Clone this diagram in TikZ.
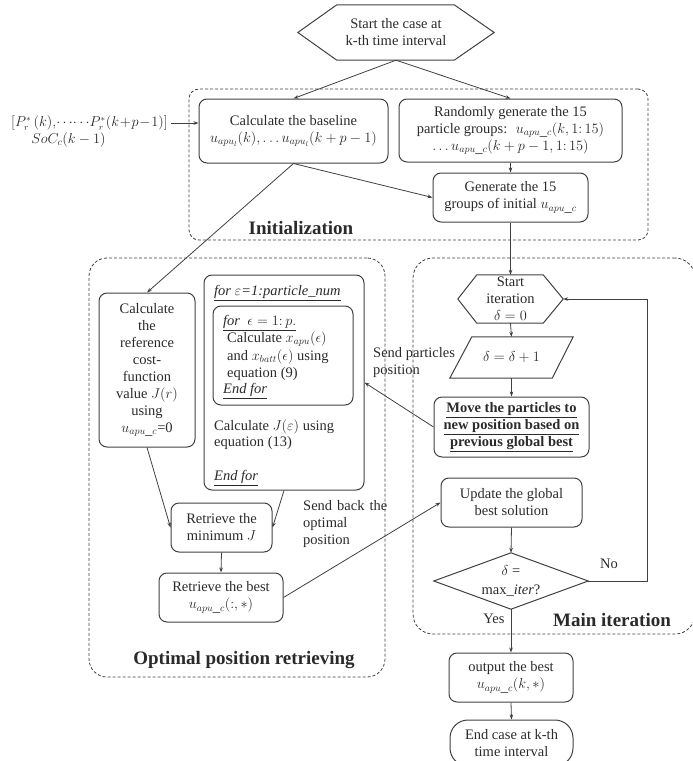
\documentclass[tikz,border=0pt]{standalone}
\usepackage{fontspec}
\setmainfont{Liberation Serif}
\usetikzlibrary{calc,arrows.meta}
\definecolor{ink}{HTML}{2A2A2A}
\definecolor{edge}{HTML}{404040}
\begin{document}
\begin{tikzpicture}[x=1bp,y=-1bp,
  font=\fontsize{14.5bp}{17bp}\selectfont,
  box/.style={draw=edge, line width=1bp, rounded corners=8bp, align=center, inner sep=1bp, text=ink},
  shapeline/.style={draw=edge, line width=1bp},
  txt/.style={align=center, inner sep=0pt, text=ink},
  ltxt/.style={anchor=base west, inner sep=0pt, text=ink},
  arr/.style={draw=edge, line width=0.8bp, -{Stealth[length=5bp,width=3.6bp]}},
  grp/.style={draw=edge, line width=0.8bp, dash pattern=on 3bp off 2bp},
  lab/.style={font=\fontsize{19bp}{23bp}\selectfont\bfseries, inner sep=0pt, anchor=base, text=ink}]
\useasboundingbox (0,0) rectangle (693,761);

% group frames
\node[grp, rounded corners=10bp, minimum width=459bp, minimum height=151bp] (initgrp) at (418.5,164.5) {};
\node[grp, rounded corners=18bp, minimum width=296bp, minimum height=419bp] (optgrp) at (237,467.5) {};
\node[grp, rounded corners=20bp, minimum width=282bp, minimum height=376bp] (maingrp) at (554,446) {};
\node[lab] (initlab) at (301,234) {Initialization};
\node[lab] (optlab) at (244,664) {Optimal position retrieving};
\node[lab] (mainlab) at (612,626) {Main iteration};

% start hexagon
\node[txt, minimum width=196bp, minimum height=55bp] (start) at (396,32.5) {Start the case at\\k-th time interval};
\draw[shapeline] (start.west) -- ($(start.north west)+(39,0)$) -- ($(start.north east)+(-40,0)$) -- (start.east)
  -- ($(start.south east)+(-40,0)$) -- ($(start.south west)+(39,0)$) -- cycle;

% inputs
\node[txt, inner sep=3bp, anchor=east, font=\fontsize{13.5bp}{16bp}\selectfont] (inp1) at (171,123) {$[P_r^{*}\,(k),\!\cdots\!\cdots\! P_r^{*}(k\!+\!p\!-\!1)]$};
\node[txt] (inp2) at (68.5,140) {$SoC_c(k-1)$};

% initialization boxes
\node[box, minimum width=189bp, minimum height=64bp] (baseline) at (293.5,131) {Calculate the baseline\\$u_{apu_l}(k),\ldots u_{apu_l}(k+p-1)$};
\node[box, minimum width=223bp, minimum height=63bp] (random) at (510.5,130.5) {Randomly generate the 15\\particle groups:~ $u_{apu\_c}(k,1{:}\,15)$\\$\ldots u_{apu\_c}(k+p-1,1{:}\,15)$};
\node[box, minimum width=155bp, minimum height=49bp] (generate) at (510.5,197.5) {Generate the 15\\groups of initial $u_{apu\_c}$};

% optimal position retrieving
\node[box, minimum width=96bp, minimum height=154bp] (reference) at (147,370) {Calculate\\the\\reference\\cost-\\function\\value $J(r)$\\using\\$u_{apu\_c}$=0};
\node[box, minimum width=160bp, minimum height=215bp] (forbox) at (284,382.5) {};
\node[box, minimum width=140bp, minimum height=99bp] (inner) at (283,355.5) {};
\node[ltxt] (fl1) at (214,295.5) {\underline{\textit{for $\varepsilon$=1:particle\_num}}};
\node[ltxt] (fl2) at (223,325.5) {\underline{\textit{for}\ \ $\epsilon = 1{:}\,p.$}};
\node[ltxt] (fl3) at (227,342.5) {Calculate $x_{apu}(\epsilon)$};
\node[ltxt] (fl4) at (227,360.5) {and $x_{batt}(\epsilon)$ using};
\node[ltxt] (fl5) at (227,377.5) {equation (9)};
\node[ltxt] (fl6) at (223,393.5) {\underline{\textit{End for}}};
\node[ltxt] (fl7) at (214,430.5) {Calculate $J(\varepsilon)$ using};
\node[ltxt] (fl8) at (214,446.5) {equation (13)};
\node[ltxt] (fl9) at (214,480.5) {\underline{\textit{End for}}};
\node[box, minimum width=101bp, minimum height=49bp] (retmin) at (221.5,527.5) {Retrieve the\\minimum $J$};
\node[box, minimum width=124bp, minimum height=49bp] (retbest) at (221,597.5) {Retrieve the best\\$u_{apu\_c}(:,*)$};

% main iteration
\node[txt, minimum width=105bp, minimum height=48bp] (itstart) at (510.5,299) {Start\\iteration\\$\delta=0$};
\draw[shapeline] (itstart.west) -- ($(itstart.north west)+(19,0)$) -- ($(itstart.north east)+(-20,0)$) -- (itstart.east)
  -- ($(itstart.south east)+(-20,0)$) -- ($(itstart.south west)+(19,0)$) -- cycle;
\node[txt, minimum width=123bp, minimum height=41bp] (inc) at (511.5,357.5) {$\delta=\delta+1$};
\draw[shapeline] ($(inc.north west)+(22,0)$) -- (inc.north east) -- ($(inc.south east)+(-21,0)$) -- (inc.south west) -- cycle;
\node[box, minimum width=155bp, minimum height=60bp] (move) at (511.5,427) {\underline{\textbf{Move the particles to}}\\\underline{\textbf{new position based on}}\\\underline{\textbf{previous global best}}};
\node[box, minimum width=141bp, minimum height=49bp] (update) at (511.5,502.5) {Update the global\\best solution};
\node[txt, minimum width=154bp, minimum height=56bp] (dec) at (511,581) {$\delta$ =\\[2bp]max\_\textit{iter}?};
\draw[shapeline] (dec.west) -- (dec.north) -- (dec.east) -- (dec.south) -- cycle;
\node[box, minimum width=124bp, minimum height=49bp] (output) at (511,677.5) {output the best\\$u_{apu\_c}(k,*)$};
\node[box, rounded corners=18bp, minimum width=123bp, minimum height=46bp] (endcase) at (511.5,743) {End case at k-th\\time interval};

% side labels
\node[txt, align=left, anchor=west] (sendp) at (373,362.5) {Send particles\\position};
\node[txt, align=left, anchor=west] (sendb) at (303,524.5) {Send\hspace{5bp}back\hspace{5bp}the\\optimal\\position};
\node[txt] (nolab) at (609,564) {No};
\node[txt] (yeslab) at (494,619) {Yes};

% connectors
\draw[arr] (start.south) -- (baseline.north);
\draw[arr] (start.south) -- (random.north);
\draw[arr] (inp1.east) -- (inp1.east -| baseline.west);
\draw[arr] (random.south) -- (generate.north);
\draw[arr] (baseline.south) -- (generate.west);
\draw[arr] (baseline.south) -- (reference.north);
\draw[arr] (generate.south) -- (itstart.north);
\draw[arr] (itstart.south) -- (inc.north);
\draw[arr] (inc.south) -- (move.north);
\draw[arr] (move.west) -- (forbox.east);
\draw[arr] (reference.south) -- (retmin.west);
\draw[arr] (forbox.south) -- (retmin.east);
\draw[arr] (retmin.south) -- (retbest.north);
\draw[arr] (retbest.east) -- (update.west);
\draw[arr] (update.south) -- (dec.north);
\draw[arr] (dec.east) -- ++(59,0) |- (itstart.east);
\draw[arr] (dec.south) -- (output.north);
\draw[arr] (output.south) -- (endcase.north);
\end{tikzpicture}
\end{document}
